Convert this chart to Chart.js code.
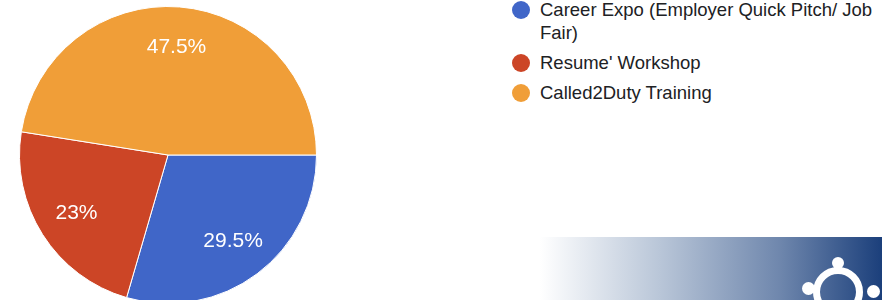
<!DOCTYPE html>
<html>
<head>
<meta charset="utf-8">
<script src="https://cdn.jsdelivr.net/npm/chart.js@4"></script>
<style>
  html, body { margin: 0; padding: 0; background: #fff; overflow: hidden; }
  body { width: 882px; height: 300px; position: relative; font-family: "Liberation Sans", Arial, sans-serif; }
  #pieWrap { position: absolute; left: 0; top: 0; width: 336px; height: 310px; }
  #legend { position: absolute; left: 512px; top: -2px; width: 370px; }
  .leg-item { display: flex; align-items: flex-start; margin-bottom: 7px; }
  .leg-dot { width: 18px; height: 18px; border-radius: 50%; flex: none; margin-top: 3px; margin-right: 10px; }
  .leg-text { font-size: 18.5px; line-height: 23px; color: #202124; width: 340px; }
  .banner { position: absolute; left: 540px; top: 237px; width: 342px; height: 63px;
    background: linear-gradient(to right, #ffffff 0%, #b9c6d8 35%, #6f87ad 70%, #1b3f7b 100%); overflow: hidden; }
  .ring { position: absolute; left: 273px; top: 30px; width: 36px; height: 36px; border: 7px solid #fff; border-radius: 50%; }
  .dot { position: absolute; background: #fff; border-radius: 50%; }
</style>
</head>
<body>
<div id="pieWrap"><canvas id="pieChart" width="336" height="310"></canvas></div>
<div id="legend"></div>
<div class="banner">
  <div class="ring"></div>
  <div class="dot" style="left:292px;top:20px;width:12px;height:12px;"></div>
  <div class="dot" style="left:262px;top:45px;width:13px;height:13px;"></div>
  <div class="dot" style="left:327px;top:48px;width:13px;height:13px;"></div>
</div>
<script>
  // --- Data ---
  const categories = ["Career Expo (Employer Quick Pitch/ Job Fair)", "Resume' Workshop", "Called2Duty Training"];
  const percentValues = [29.5, 23, 47.5];
  const sliceColors = ['#4066c8', '#cc4526', '#f09e38'];

  // Labels inside slices (like google forms)
  const sliceLabels = {
    id: 'sliceLabels',
    afterDatasetsDraw(chart) {
      const ctx = chart.ctx;
      const meta = chart.getDatasetMeta(0);
      ctx.save();
      ctx.fillStyle = '#ffffff';
      ctx.font = '21px "Liberation Sans", Arial, sans-serif';
      ctx.textAlign = 'center';
      ctx.textBaseline = 'middle';
      meta.data.forEach((arc, i) => {
        const p = arc.getProps(['x', 'y', 'startAngle', 'endAngle', 'outerRadius']);
        const mid = (p.startAngle + p.endAngle) / 2;
        const r = p.outerRadius * 0.73;
        ctx.fillText(percentValues[i] + '%', p.x + Math.cos(mid) * r, p.y + Math.sin(mid) * r);
      });
      ctx.restore();
    }
  };

  new Chart(document.getElementById('pieChart').getContext('2d'), {
    type: 'pie',
    data: {
      labels: categories,
      datasets: [{
        data: percentValues,
        backgroundColor: sliceColors,
        borderColor: '#ffffff',
        borderWidth: 1
      }]
    },
    options: {
      responsive: false,
      animation: false,
      rotation: 90,
      layout: { padding: 6 },
      plugins: { legend: { display: false }, tooltip: { enabled: false } }
    },
    plugins: [sliceLabels]
  });

  // --- Legend ---
  const legend = document.getElementById('legend');
  categories.forEach((name, i) => {
    const item = document.createElement('div');
    item.className = 'leg-item';
    item.innerHTML = '<span class="leg-dot" style="background:' + sliceColors[i] + '"></span><span class="leg-text"></span>';
    item.querySelector('.leg-text').textContent = name;
    legend.appendChild(item);
  });
</script>
</body>
</html>
